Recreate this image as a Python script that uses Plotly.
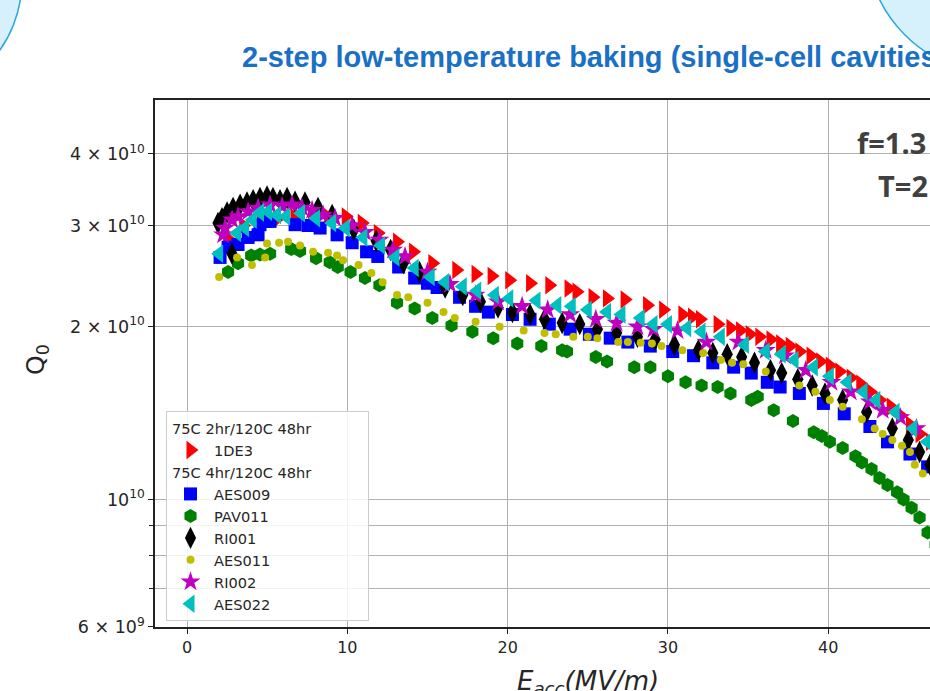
import plotly.graph_objects as go

# ---------------- data (E_acc in MV/m, Q0 in units of 1e10) ----------------
Q_UNIT = 1e10

e_1de3 = [2.5, 3.5, 4.6, 5.6, 6.7, 7.8, 8.8, 9.9, 10.9, 11.9, 13.1, 14.1, 15.3, 16.8, 18.0, 19.0,
          20.1, 21.4, 22.6, 23.8, 24.3, 25.3, 26.2, 27.3, 28.7, 29.7, 30.9, 31.5, 32.0, 33.1,
          33.9, 34.5, 35.1, 35.7, 36.4, 37.0, 37.6, 38.2, 38.9, 39.5, 40.1, 40.7, 41.4, 42.0,
          42.6, 43.2, 43.9, 44.5, 45.1, 45.7, 46.35, 47.0]
q_1de3 = [2.85, 3.00, 3.05, 3.08, 3.10, 3.10, 3.10, 3.11, 3.03, 2.91, 2.81, 2.70, 2.58, 2.51, 2.47, 2.45,
          2.41, 2.38, 2.36, 2.33, 2.30, 2.25, 2.24, 2.23, 2.18, 2.14, 2.10, 2.08, 2.06, 2.02,
          1.99, 1.97, 1.94, 1.92, 1.90, 1.87, 1.85, 1.81, 1.78, 1.74, 1.71, 1.67, 1.63, 1.59,
          1.54, 1.49, 1.45, 1.40, 1.35, 1.30, 1.26, 1.21]

e_aes009 = [2.06, 2.56, 3.18, 3.81, 4.43, 4.55, 4.87, 5.18, 6.74, 7.55, 8.3, 9.36, 10.3, 11.2, 11.9,
            13.2, 14.2, 15.0, 15.6, 17.0, 18.0, 18.8, 20.3, 21.4, 22.6, 23.9, 25.1, 26.4, 27.5,
            28.9, 30.3, 31.6, 32.8, 34.1, 35.2, 36.2, 37.0, 38.2, 39.7, 41.0, 42.6, 43.7, 45.1, 46.2]
q_aes009 = [2.64, 2.75, 2.78, 2.86, 2.89, 3.01, 3.05, 3.05, 3.01, 3.00, 2.97, 2.89, 2.80, 2.70, 2.65,
            2.54, 2.43, 2.38, 2.34, 2.25, 2.17, 2.12, 2.10, 2.06, 2.02, 1.98, 1.94, 1.91, 1.88,
            1.85, 1.81, 1.78, 1.73, 1.70, 1.66, 1.60, 1.57, 1.53, 1.47, 1.41, 1.34, 1.26, 1.20, 1.14]

e_pav011 = [2.56, 3.18, 4.0, 4.55, 5.18, 6.5, 7.05, 8.05, 8.9, 9.4, 10.2, 11.1, 12.0, 13.1, 14.2,
            15.3, 16.5, 17.8, 19.1, 20.6, 22.1, 23.4, 23.7, 25.5, 26.2, 27.9, 28.9, 30.0, 31.1,
            32.1, 33.1, 33.9, 35.2, 35.6, 36.6, 37.8, 39.1, 39.6, 40.1, 40.9, 41.7, 42.1, 42.7,
            43.2, 43.7, 44.3, 44.7, 45.2, 45.7, 46.2, 46.7]
q_pav011 = [2.49, 2.58, 2.66, 2.67, 2.68, 2.73, 2.71, 2.63, 2.59, 2.54, 2.49, 2.43, 2.36, 2.20, 2.15,
            2.07, 2.01, 1.96, 1.91, 1.87, 1.85, 1.82, 1.81, 1.77, 1.74, 1.70, 1.70, 1.64, 1.60,
            1.58, 1.57, 1.53, 1.49, 1.51, 1.43, 1.37, 1.31, 1.29, 1.26, 1.23, 1.19, 1.16, 1.13,
            1.09, 1.06, 1.03, 1.00, 0.968, 0.93, 0.876, 0.835]

e_ri001 = [1.93, 2.18, 2.5, 2.8, 2.87, 3.31, 3.74, 4.12, 4.55, 4.99, 5.36, 5.8, 6.24, 6.74, 7.36,
           8.17, 9.05, 10.4, 11.8, 12.7, 13.5, 14.5, 16.1, 17.2, 18.3, 19.4, 20.3, 21.4, 22.3,
           23.4, 24.5, 25.6, 26.8, 28.1, 29.2, 30.4, 31.9, 32.8, 33.7, 34.6, 35.4, 36.4, 37.1,
           38.1, 39.0, 39.8, 40.9, 42.4, 44.0, 45.0, 45.7, 46.35]
q_ri001 = [3.03, 3.09, 3.16, 2.68, 3.22, 3.26, 3.29, 3.32, 3.35, 3.37, 3.35, 3.32, 3.35, 3.30, 3.29,
           3.22, 3.13, 2.95, 2.82, 2.72, 2.58, 2.49, 2.34, 2.27, 2.21, 2.16, 2.12, 2.10, 2.06,
           2.03, 2.02, 1.98, 1.95, 1.92, 1.90, 1.86, 1.82, 1.80, 1.79, 1.77, 1.73, 1.68, 1.66,
           1.62, 1.58, 1.53, 1.49, 1.42, 1.33, 1.27, 1.21, 1.15]

e_aes011 = [2.0, 3.12, 4.05, 4.87, 4.99, 5.74, 6.3, 7.05, 7.86, 8.8, 9.36, 9.73, 10.7, 11.5, 12.2,
            13.1, 13.8, 15.0, 16.0, 16.7, 18.0, 19.5, 21.0, 22.3, 23.0, 24.1, 25.0, 25.6, 26.9,
            27.5, 28.3, 29.0, 29.6, 30.9, 32.2, 33.3, 34.0, 34.7, 36.1, 38.2, 39.2, 40.1, 40.9,
            42.1, 42.9, 43.4, 44.0, 44.6, 45.1, 45.4, 45.9]
q_aes011 = [2.44, 2.64, 2.56, 2.64, 2.79, 2.80, 2.81, 2.77, 2.70, 2.69, 2.66, 2.61, 2.56, 2.48, 2.39,
            2.27, 2.25, 2.20, 2.12, 2.07, 2.04, 2.00, 1.97, 1.95, 1.94, 1.92, 1.92, 1.91, 1.88,
            1.88, 1.875, 1.87, 1.85, 1.82, 1.80, 1.75, 1.73, 1.72, 1.67, 1.58, 1.54, 1.49, 1.45,
            1.38, 1.33, 1.30, 1.27, 1.24, 1.21, 1.15, 1.11]

e_ri002 = [2.25, 2.37, 2.81, 3.18, 3.81, 4.43, 5.18, 5.93, 6.55, 7.17, 7.8, 8.49, 9.23, 10.3, 11.1,
           12.0, 12.85, 13.6, 15.0, 16.4, 18.0, 19.4, 20.9, 22.5, 23.9, 25.5, 26.8, 28.1, 29.1,
           30.6, 32.4, 34.4, 36.1, 37.3, 38.6, 40.2, 41.4, 42.6, 43.4, 44.5, 45.5]
q_ri002 = [2.89, 2.97, 3.07, 3.11, 3.17, 3.22, 3.26, 3.24, 3.26, 3.22, 3.19, 3.13, 3.09, 3.00, 2.92,
           2.83, 2.72, 2.65, 2.49, 2.37, 2.27, 2.21, 2.17, 2.14, 2.10, 2.06, 2.03, 2.00, 1.98,
           1.97, 1.88, 1.88, 1.82, 1.78, 1.68, 1.60, 1.54, 1.48, 1.43, 1.39, 1.33]

e_aes022 = [2.0, 3.12, 3.62, 4.1, 4.55, 5.05, 5.61, 6.18, 7.11, 8.05, 9.05, 9.9, 11.0, 12.1, 13.0,
            14.2, 15.2, 16.1, 17.2, 18.1, 19.2, 20.1, 21.8, 23.1, 24.0, 25.0, 26.2, 27.1, 28.3,
            29.1, 30.0, 31.2, 32.1, 33.3, 34.8, 36.1, 37.1, 37.9, 39.1, 40.1, 41.2, 42.2, 43.0,
            44.2, 45.3, 46.2]
q_aes022 = [2.68, 2.91, 2.97, 3.07, 3.16, 3.17, 3.13, 3.11, 3.15, 3.09, 3.03, 2.97, 2.86, 2.77, 2.64,
            2.53, 2.44, 2.39, 2.35, 2.31, 2.27, 2.24, 2.22, 2.18, 2.17, 2.14, 2.12, 2.10, 2.07,
            2.02, 2.02, 1.99, 1.96, 1.92, 1.86, 1.81, 1.79, 1.75, 1.70, 1.64, 1.60, 1.54, 1.49,
            1.42, 1.33, 1.26]

y_tickvals = [6e9, 1e10, 2e10, 3e10, 4e10]
y_ticktext = ["6 × 10<sup>9</sup>", "10<sup>10</sup>", "2 × 10<sup>10</sup>",
              "3 × 10<sup>10</sup>", "4 × 10<sup>10</sup>"]
y_minor = [7e9, 8e9, 9e9, 5e10]
x_tickvals = [0, 10, 20, 30, 40]

PAD = "&nbsp;" * 10
series = [
    ("1DE3", e_1de3, q_1de3, "triangle-right", "#ff0000", 16, "g1", "75C 2hr/120C 48hr" + PAD),
    ("AES009", e_aes009, q_aes009, "square", "#0000ff", 13, "g2", "75C 4hr/120C 48hr" + PAD),
    ("PAV011", e_pav011, q_pav011, "hexagon", "#008000", 14, "g2", None),
    ("RI001", e_ri001, q_ri001, "diamond-tall", "#000000", 16, "g2", None),
    ("AES011", e_aes011, q_aes011, "circle", "#bfbf00", 8, "g2", None),
    ("RI002", e_ri002, q_ri002, "star", "#bf00bf", 15, "g2", None),
    ("AES022", e_aes022, q_aes022, "triangle-left", "#00bfbf", 16, "g2", None),
]

fig = go.Figure()
for name, ex, qx, sym, col, size, grp, gtitle in series:
    kw = {}
    if gtitle:
        kw["legendgrouptitle"] = dict(text=gtitle, font=dict(size=14.6, color="#262626",
                                                             family="DejaVu Sans"))
    fig.add_trace(go.Scatter(
        x=ex, y=[v * Q_UNIT for v in qx], mode="markers", name=name,
        legendgroup=grp,
        marker=dict(symbol=sym, color=col, size=size, line=dict(width=0)),
        **kw))

# layout geometry
L, T, B = 155, 100, 64
W, H = 930, 691
pw, ph = W - L, H - T - B


def px(xp):
    return (xp - L) / pw


def py(yp):
    return (H - B - yp) / ph


fig.update_layout(
    width=W, height=H,
    margin=dict(l=L, r=0, t=T, b=B, pad=0),
    paper_bgcolor="white", plot_bgcolor="white",
    font=dict(family="DejaVu Sans", color="#262626", size=15),
    showlegend=True,
    legend=dict(x=px(166), y=py(411), xanchor="left", yanchor="top",
                traceorder="grouped", tracegroupgap=0, itemwidth=37,
                bgcolor="rgba(255,255,255,0.85)", bordercolor="#cccccc", borderwidth=1,
                font=dict(size=14.6, color="#262626", family="DejaVu Sans"),
                itemsizing="trace"),
    xaxis=dict(range=[-2.0, 46.35], tickvals=x_tickvals, showgrid=True,
               gridcolor="#b0b0b0", gridwidth=1, zeroline=False,
               showline=True, linecolor="#222222", linewidth=1.5, mirror=True,
               ticks="outside", ticklen=5, tickcolor="#222222",
               tickfont=dict(size=16, family="DejaVu Sans", color="#262626")),
    yaxis=dict(type="log", range=[9.7780, 10.6957], tickvals=y_tickvals, ticktext=y_ticktext,
               showgrid=True, gridcolor="#b0b0b0", gridwidth=1, zeroline=False,
               showline=True, linecolor="#222222", linewidth=1.5, mirror=False,
               ticks="outside", ticklen=5, tickcolor="#222222",
               tickfont=dict(size=17.5, family="DejaVu Sans", color="#262626"),
               minor=dict(tickvals=y_minor, ticks="outside", ticklen=4,
                          tickcolor="#222222", showgrid=True,
                          gridcolor="#b0b0b0", gridwidth=1)),
)

# decorative slide circles
fig.add_shape(type="circle", xref="paper", yref="paper",
              x0=px(-222), x1=px(22), y0=py(102), y1=py(-142),
              fillcolor="#d6f1fb", line=dict(color="#2aa6df", width=1.5), layer="below")
fig.add_shape(type="circle", xref="paper", yref="paper",
              x0=px(865.6), x1=px(1134.4), y0=py(74.4), y1=py(-194.4),
              fillcolor="#d6f1fb", line=dict(color="#2aa6df", width=1.5), layer="below")

# title
fig.add_annotation(text="<b>2-step low-temperature baking (single-cell cavities)</b>",
                   xref="paper", yref="paper", x=px(240), y=py(57),
                   xanchor="left", yanchor="middle", showarrow=False,
                   font=dict(family="Liberation Sans", size=29.0, color="#1a70c4"))
# condition labels
fig.add_annotation(text="<b>f=1.3 GHz</b>", xref="paper", yref="paper",
                   x=px(855), y=py(142), xanchor="left", yanchor="middle", showarrow=False,
                   font=dict(family="Open Sans", size=29, color="#404040"))
fig.add_annotation(text="<b>T=2 K</b>", xref="paper", yref="paper",
                   x=px(876), y=py(185), xanchor="left", yanchor="middle", showarrow=False,
                   font=dict(family="Open Sans", size=29, color="#404040"))
# axis titles
fig.add_annotation(text="Q<sub>0</sub>", xref="paper", yref="paper",
                   x=px(37), y=py(360), xanchor="center", yanchor="middle",
                   textangle=-90, showarrow=False,
                   font=dict(family="DejaVu Sans", size=25, color="#262626"))
fig.add_annotation(text="<i>E<sub>acc</sub>(MV/m)</i>", xref="paper", yref="paper",
                   x=px(588), y=py(664), xanchor="center", yanchor="top", showarrow=False,
                   font=dict(family="DejaVu Sans", size=26, color="#262626"))

fig.write_html("out.html",
               config={"displayModeBar": False},
               post_script="document.body.style.margin='0';"
                           "document.body.style.overflow='hidden';")
